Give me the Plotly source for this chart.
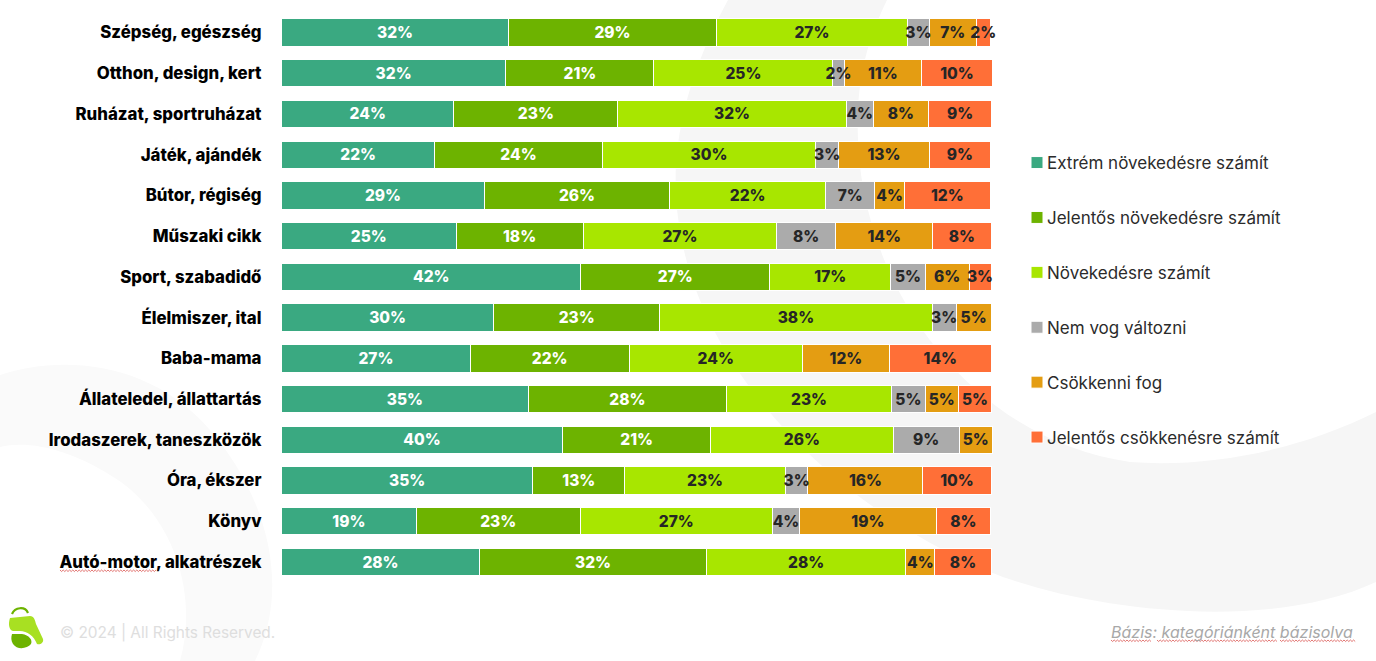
import plotly.graph_objects as go

W, H = 1376, 661

categories = ['Szépség, egészség', 'Otthon, design, kert', 'Ruházat, sportruházat', 'Játék, ajándék',
              'Bútor, régiség', 'Műszaki cikk', 'Sport, szabadidő', 'Élelmiszer, ital', 'Baba-mama',
              'Állateledel, állattartás', 'Irodaszerek, taneszközök', 'Óra, ékszer', 'Könyv',
              'Autó-motor, alkatrészek']

# shares, None = no segment in that row
extrem = [32.0, 31.6, 24.3, 21.6, 28.6, 24.6, 42.2, 29.9, 26.6, 34.8, 39.6, 35.4, 19.0, 27.9]
jelentos = [29.3, 20.9, 23.1, 23.6, 26.1, 17.9, 26.6, 23.4, 22.4, 27.9, 20.9, 13.0, 23.1, 32.0]
novekedes = [26.9, 25.2, 32.2, 30.1, 22.0, 27.3, 17.1, 38.4, 24.4, 23.3, 25.7, 22.6, 27.1, 28.1]
nem_vog = [3.1, 1.6, 3.8, 3.2, 6.9, 8.3, 4.8, 3.4, None, 4.7, 9.3, 3.2, 3.8, None]
csokkenni = [6.6, 10.9, 7.8, 12.8, 4.2, 13.7, 6.2, 4.9, 12.3, 4.7, 4.7, 16.2, 19.3, 4.1]
jelentos_csokk = [2.0, 10.0, 8.9, 8.6, 12.1, 8.2, 3.1, None, 14.3, 4.7, None, 9.6, 7.6, 7.9]

series = [
    ('Extrém növekedésre számít', extrem, '#3AA981', 'white'),
    ('Jelentős növekedésre számít', jelentos, '#6DB300', 'white'),
    ('Növekedésre számít', novekedes, '#A8E600', '#262626'),
    ('Nem vog változni', nem_vog, '#ABABAB', '#262626'),
    ('Csökkenni fog', csokkenni, '#E49D12', '#262626'),
    ('Jelentős csökkenésre számít', jelentos_csokk, '#FF6F37', '#262626'),
]

FONT = 'Inter'


def px_path(points, close=True):
    # pixel positions of the page -> paper coordinates
    cmds = []
    for cmd, pts in points:
        cmds.append(cmd + ' '.join(f'{x / W:.5f},{1 - y / H:.5f}' for x, y in pts))
    return ' '.join(cmds) + (' Z' if close else '')


def shape(points, color):
    return dict(type='path', xref='paper', yref='paper', layer='below', line_width=0,
                fillcolor=color, path=px_path(points))


def squiggle(x0, x1, y):
    # the spell-check underline in the screenshot
    pts = []
    x, up = x0, True
    while x <= x1:
        pts.append(('L', [(x, y - 1 if up else y + 0.5)]))
        x += 1.6
        up = not up
    pts[0] = ('M', pts[0][1])
    return dict(type='path', xref='paper', yref='paper', line=dict(color='#D9534F', width=0.8),
                path=px_path(pts, close=False))


fig = go.Figure()

for name, values, color, text_color in series:
    fig.add_trace(go.Bar(
        y=categories,
        x=values,
        name=name,
        orientation='h',
        legendgroup=name,
        marker=dict(color=color, line=dict(color='white', width=1)),
    ))

# labels go on an overlaid copy of the stack, so a wide label is not covered by the next bar
for name, values, color, text_color in series:
    fig.add_trace(go.Bar(
        y=categories,
        x=values,
        name=name,
        orientation='h',
        xaxis='x2',
        yaxis='y2',
        showlegend=False,
        hoverinfo='skip',
        marker=dict(color='rgba(0,0,0,0)', line_width=0),
        text=[f'{round(v)}%' if v else '' for v in values],
        textposition='inside',
        insidetextanchor='middle',
        textangle=0,
        constraintext='none',
        cliponaxis=False,
        textfont=dict(family=FONT, size=15.5, color=text_color, weight=800),
    ))

# faint background swoosh and ring
swoosh = [('M', [(728, 0)]),
          ('C', [(690, 70), (665, 150), (680, 230)]),
          ('C', [(700, 360), (820, 500), (990, 572)]),
          ('C', [(1090, 612), (1270, 632), (1376, 582)]),
          ('L', [(1376, 412)]),
          ('C', [(1300, 450), (1210, 468), (1130, 462)]),
          ('C', [(970, 440), (850, 280), (858, 110)]),
          ('C', [(860, 60), (875, 25), (887, 0)])]
ring = [('M', [(0, 375)]),
        ('C', [(60, 355), (150, 360), (210, 430)]),
        ('C', [(270, 500), (290, 590), (255, 661)]),
        ('L', [(180, 661)]),
        ('C', [(200, 590), (170, 510), (110, 475)]),
        ('C', [(70, 450), (30, 440), (0, 447)])]

# logo
bag = [('M', [(10, 618)]),
       ('L', [(30, 616)]),
       ('C', [(34, 616), (35, 620), (36, 624)]),
       ('L', [(43, 639)]),
       ('C', [(44, 643), (40, 645), (37, 644)]),
       ('C', [(34, 636), (27, 631), (20, 631)]),
       ('L', [(13, 631)]),
       ('C', [(9, 630), (8, 624), (10, 618)])]
bag_bottom = [('M', [(12, 634)]),
              ('L', [(22, 634)]),
              ('C', [(29, 635), (33, 640), (31, 644)]),
              ('C', [(27, 649), (17, 650), (13, 644)]),
              ('C', [(11, 641), (11, 637), (12, 634)])]
handle = [('M', [(12, 614)]), ('C', [(15, 607), (25, 606), (28, 613)])]

shapes = [shape(swoosh, '#F6F6F6'), shape(ring, '#FAFAFA'),
          shape(bag, '#A8E022'), shape(bag_bottom, '#6DB300'),
          dict(type='path', xref='paper', yref='paper', line=dict(color='#6DB300', width=2.2),
               path=px_path(handle, close=False)),
          squiggle(60, 156, 571), squiggle(1111, 1151, 641),
          squiggle(1157, 1277, 641), squiggle(1280, 1356, 641)]

# axis runs a little past 100 so rows summing to 100.1 keep their last label
x_domain = [281.5 / W, (281.5 + 7.095 * 101) / W]
y_domain = [1 - 582.4 / H, 1 - 12.1 / H]

fig.update_layout(
    width=W,
    height=H,
    barmode='stack',
    bargap=0.33,
    template='plotly_white',
    paper_bgcolor='white',
    plot_bgcolor='rgba(0,0,0,0)',
    margin=dict(l=0, r=0, t=0, b=0),
    shapes=shapes,
    xaxis=dict(domain=x_domain, range=[0, 101], visible=False),
    yaxis=dict(domain=y_domain, autorange='reversed', showgrid=False,
               showline=False, zeroline=False, ticks='', ticklabelstandoff=19,
               tickfont=dict(family=FONT, size=16.8, color='black', weight=800)),
    xaxis2=dict(domain=x_domain, range=[0, 101], visible=False, overlaying='x', anchor='y2'),
    yaxis2=dict(domain=y_domain, autorange='reversed', visible=False, overlaying='y', anchor='x2'),
    legend=dict(x=1007 / W, xanchor='left', y=1 - 145 / H, yanchor='top', tracegroupgap=29.8,
                bgcolor='rgba(0,0,0,0)', traceorder='grouped',
                font=dict(family=FONT, size=17, color='#2B2B2B')),
    annotations=[
        dict(text='© 2024 | All Rights Reserved.', xref='paper', yref='paper', x=58 / W, y=1 - 632 / H,
             xanchor='left', yanchor='middle', showarrow=False,
             font=dict(family=FONT, size=15.4, color='#DEDEDE')),
        dict(text='<i>Bázis: kategóriánként bázisolva</i>', xref='paper', yref='paper', x=1355 / W,
             y=1 - 632 / H, xanchor='right', yanchor='middle', showarrow=False,
             font=dict(family=FONT, size=16, color='#A8A8A8')),
    ],
)

# legend squares sit closer to their text than plotly's fixed gap
post = """document.body.style.margin='0';
document.querySelectorAll('.legendsymbols').forEach(g => g.setAttribute('transform', 'translate(10,0)'));"""
fig.write_html("out.html", config={'displayModeBar': False}, post_script=post)
